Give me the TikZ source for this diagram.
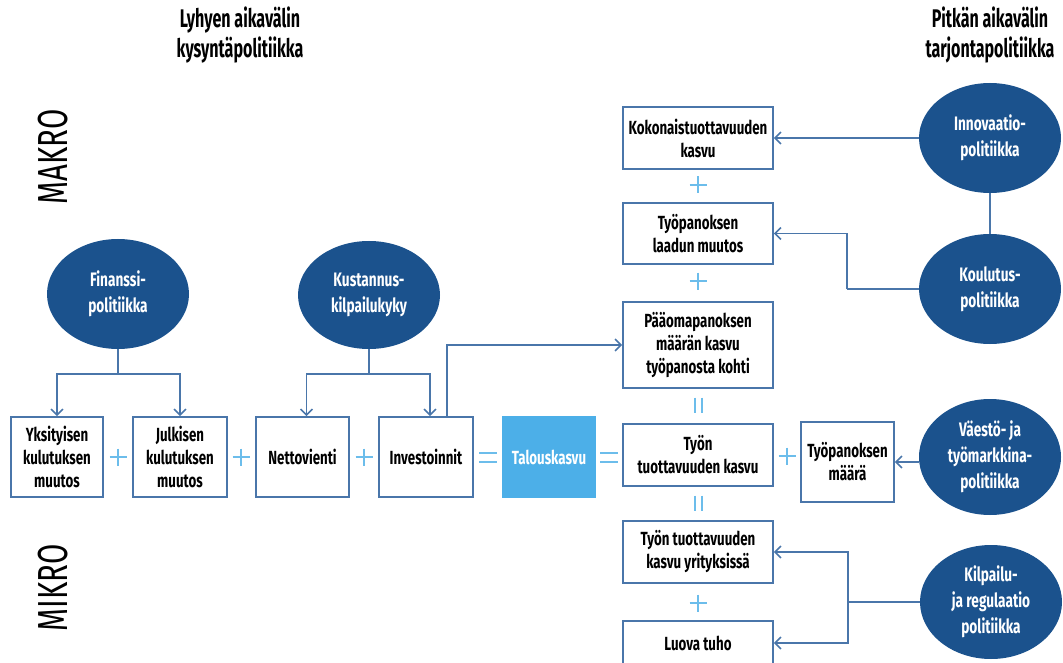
\documentclass[tikz,border=0pt]{standalone}
\usepackage{fontspec}
\setmainfont{Fira Sans}[FakeStretch=0.7]
\newfontfamily\hdrfont{Fira Sans}[FakeStretch=0.63]
\usetikzlibrary{shapes.geometric,arrows.meta}
\definecolor{ellblue}{HTML}{1B528D}
\definecolor{linblue}{HTML}{4A76AA}
\definecolor{lightblue}{HTML}{4CAFE8}
\definecolor{signblue}{HTML}{6CBDEB}
\tikzset{
  pics/plusmark/.style={code={\draw[signblue, line width=2pt] (-8.5,0) -- (8.5,0) (0,-8.5) -- (0,8.5);}},
  pics/eqmark/.style={code={\draw[signblue, line width=2pt] (-9,-4.5) -- (9,-4.5) (-9,4.5) -- (9,4.5);}},
  pics/veqmark/.style={code={\draw[signblue, line width=2pt] (-3.5,-7.5) -- (-3.5,7.5) (3.5,-7.5) -- (3.5,7.5);}},
}
\begin{document}
\begin{tikzpicture}[x=1pt,y=-1pt,
  box/.style={draw=linblue, line width=1.8pt, fill=white, inner sep=0pt, align=center, font=\fontsize{19}{23}\selectfont\bfseries, text=black},
  ell/.style={ellipse, fill=ellblue, inner sep=0pt, minimum width=142pt, minimum height=110pt, align=center, text=white, font=\fontsize{19.5}{26}\selectfont\bfseries},
  conn/.style={draw=linblue, line width=1.7pt},
  arr/.style={conn, -{Straight Barb[length=6pt,width=12pt,line width=1.5pt]}},
  hdr/.style={align=center, font=\hdrfont\fontsize{25.5}{30}\selectfont\bfseries, text=black},
  side/.style={rotate=90, font=\fontsize{42}{42}\selectfont, text=black},
]
\useasboundingbox (0,0) rectangle (1063,663);
\clip (0,0) rectangle (1063,663);

% headers
\node[hdr] (hl) at (240,35) {Lyhyen aikavälin\\kysyntäpolitiikka};
\node[hdr] (hr) at (990,35) {Pitkän aikavälin\\tarjontapolitiikka};
\node[side] (makro) at (53,157) {MAKRO};
\node[side] (mikro) at (53,588) {MIKRO};

% left row boxes
\node[box, minimum width=92pt, minimum height=80pt] (b1) at (57,457) {Yksityisen\\kulutuksen\\muutos};
\node[box, minimum width=94pt, minimum height=80pt] (b2) at (180,457) {Julkisen\\kulutuksen\\muutos};
\node[box, minimum width=93pt, minimum height=80pt] (b3) at (302.5,457) {Nettovienti};
\node[box, minimum width=94pt, minimum height=80pt] (b4) at (426,457) {Investoinnit};
\node[box, draw=lightblue, fill=lightblue, text=white, minimum width=92pt, minimum height=80pt] (tk) at (549,457) {Talouskasvu};

% right column boxes
\node[box, minimum width=150pt, minimum height=62pt] (r1) at (698,138) {Kokonaistuottavuuden\\kasvu};
\node[box, minimum width=150pt, minimum height=61pt] (r2) at (698,233.5) {Työpanoksen\\laadun muutos};
\node[box, minimum width=150pt, minimum height=86pt] (r3) at (698,345) {Pääomapanoksen\\määrän kasvu\\työpanosta kohti};
\node[box, minimum width=150pt, minimum height=62pt] (r4) at (698,455) {Työn\\tuottavuuden kasvu};
\node[box, minimum width=150pt, minimum height=62pt] (r5) at (698,552) {Työn tuottavuuden\\kasvu yrityksissä};
\node[box, minimum width=150pt, minimum height=44pt] (r6) at (698,643) {Luova tuho};
\node[box, minimum width=93pt, minimum height=80pt] (m) at (847.5,462) {Työpanoksen\\määrä};

% ellipses
\node[ell] (e1) at (118,294) {Finanssi-\\politiikka};
\node[ell, minimum height=108pt] (e2) at (369,295) {Kustannus-\\kilpailukyky};
\node[ell] (e3) at (990,138) {Innovaatio-\\politiikka};
\node[ell] (e4) at (990,289) {Koulutus-\\politiikka};
\node[ell, minimum height=116pt] (e5) at (990,457) {Väestö- ja\\työmarkkina-\\politiikka};
\node[ell, minimum height=114pt] (e6) at (991,602) {Kilpailu-\\ja regulaatio\\politiikka};

% signs
\pic at (118,457) {plusmark};
\pic at (241,457) {plusmark};
\pic at (364,457) {plusmark};
\pic at (787,456) {plusmark};
\pic at (488,457) {eqmark};
\pic at (609,457) {eqmark};
\pic at (698,185) {plusmark};
\pic at (698,281) {plusmark};
\pic at (698,603) {plusmark};
\pic at (698,405) {veqmark};
\pic at (698,503) {veqmark};

% connectors
\coordinate (j1) at (118,374);
\coordinate (j2) at (369,374);
\draw[conn] (e1.south) -- (j1);
\draw[arr] (j1) -| (b1.north);
\draw[arr] (j1) -| (b2.north);
\draw[conn] (e2.south) -- (j2);
\draw[arr] (j2) -| ([xshift=4pt]b3.north);
\draw[arr] (j2) -| ([xshift=4pt]b4.north);
\draw[arr] ([xshift=21pt]b4.north) |- (r3.west);

\draw[arr] (e3.west) -- (r1.east);
\draw[conn] (e3.south) -- (e4.north);
\coordinate (k1) at (847,289);
\draw[conn] (e4.west) -- (k1);
\draw[arr] (k1) |- (r2.east);
\draw[arr] (e5.west |- m.east) -- (m.east);
\coordinate (k2) at (848,602);
\draw[conn] (e6.west) -- (k2);
\draw[arr] (k2) |- (r5.east);
\draw[arr] (k2) |- (r6.east);
\end{tikzpicture}
\end{document}
